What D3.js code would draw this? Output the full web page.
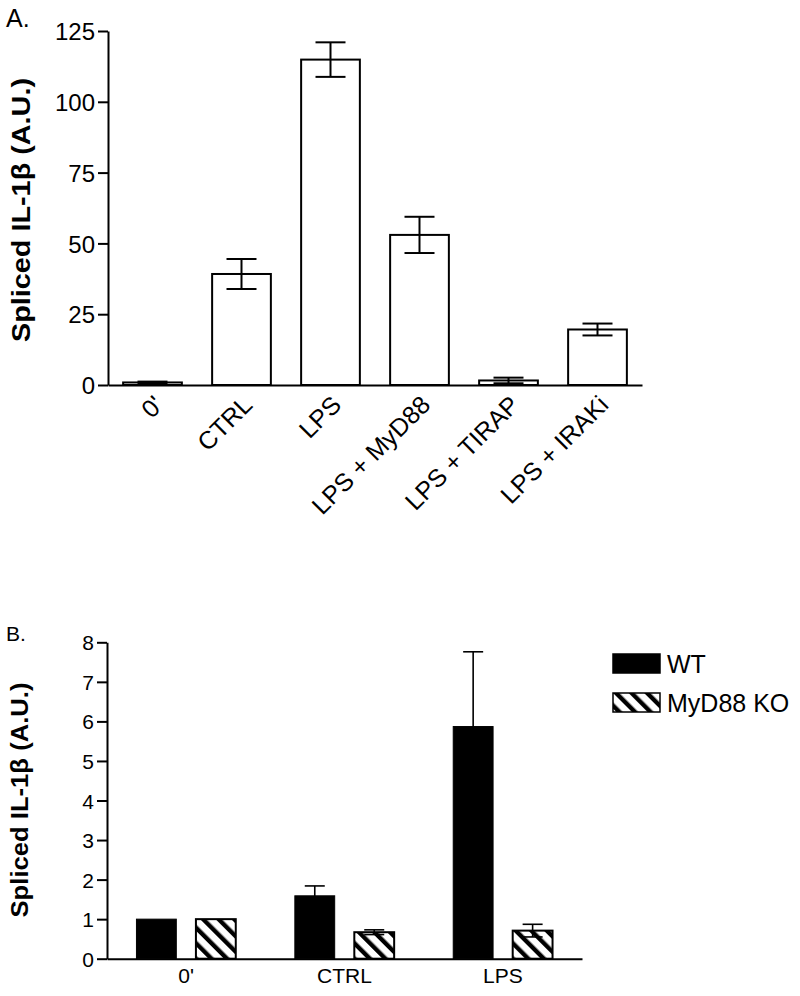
<!DOCTYPE html>
<html>
<head>
<meta charset="utf-8">
<script src="https://cdn.jsdelivr.net/npm/d3@7"></script>
<style>
  body { margin: 0; background: #fff; }
  svg { display: block; font-family: "Liberation Sans", Arial, sans-serif; }
</style>
</head>
<body>
<svg id="chart" width="800" height="996"></svg>
<script>
// Panel A data
var catsA = ["0'", "CTRL", "LPS", "LPS + MyD88", "LPS + TIRAP", "LPS + IRAKi"];
var meanA = [0.9, 39.2, 114.9, 53.0, 1.6, 19.6];
var errA = [0.3, 5.3, 6.1, 6.4, 1.0, 2.1];
var ticksA = [0, 25, 50, 75, 100, 125];

// Panel B data
var catsB = ["0'", "CTRL", "LPS"];
var seriesB = ["WT", "MyD88 KO"];
var wtB = [1.0, 1.59, 5.87];
var wtErrB = [0, 0.25, 1.89];
var koB = [1.0, 0.67, 0.71];
var koErrB = [0, 0.06, 0.16];
var ticksB = [0, 1, 2, 3, 4, 5, 6, 7, 8];

var svg = d3.select("#chart");

// Patrón rayado
svg.append("defs").append("pattern")
  .attr("id", "hatch")
  .attr("patternUnits", "userSpaceOnUse")
  .attr("width", 11)
  .attr("height", 11)
  .attr("patternTransform", "rotate(-45)")
  .call(function (p) {
    p.append("rect").attr("width", 11).attr("height", 11).attr("fill", "#fff");
    p.append("rect").attr("x", 0).attr("width", 4.4).attr("height", 11).attr("fill", "#000");
  });

// ---------------- Panel A ----------------
var xA = d3.scaleBand().domain(catsA).range([108, 642]).paddingInner(0.34).paddingOuter(0.17);
var yA = d3.scaleLinear().domain([0, 125]).range([385, 31]);

var gA = svg.append("g");

gA.append("text").attr("x", 6).attr("y", 27).style("font-size", "25px").text("A.");

// Barras
gA.selectAll(".barA")
  .data(catsA)
  .enter()
  .append("rect")
  .attr("class", "barA")
  .attr("x", function (d) { return xA(d); })
  .attr("y", function (d, i) { return yA(meanA[i]); })
  .attr("width", xA.bandwidth())
  .attr("height", function (d, i) { return yA(0) - yA(meanA[i]); })
  .attr("fill", "#fff")
  .attr("stroke", "#000")
  .attr("stroke-width", 2);

// Barras de error
var errG = gA.selectAll(".errA").data(catsA).enter().append("g").attr("class", "errA")
  .attr("stroke", "#000").attr("stroke-width", 2);
errG.append("line")
  .attr("x1", function (d) { return xA(d) + xA.bandwidth() / 2; })
  .attr("x2", function (d) { return xA(d) + xA.bandwidth() / 2; })
  .attr("y1", function (d, i) { return yA(meanA[i] + errA[i]); })
  .attr("y2", function (d, i) { return yA(meanA[i] - errA[i]); });
[1, -1].forEach(function (s) {
  errG.append("line")
    .attr("x1", function (d) { return xA(d) + xA.bandwidth() / 2 - 15; })
    .attr("x2", function (d) { return xA(d) + xA.bandwidth() / 2 + 15; })
    .attr("y1", function (d, i) { return yA(meanA[i] + s * errA[i]); })
    .attr("y2", function (d, i) { return yA(meanA[i] + s * errA[i]); });
});

// Ejes
var yAxisA = gA.append("g").attr("transform", "translate(108,0)")
  .call(d3.axisLeft(yA).tickValues(ticksA).tickSize(10).tickSizeOuter(0).tickPadding(3));
var xAxisA = gA.append("g").attr("transform", "translate(0,385)")
  .call(d3.axisBottom(xA).tickSize(0).tickSizeOuter(0).tickFormat(""));
[yAxisA, xAxisA].forEach(function (ax) {
  ax.select(".domain").attr("stroke-width", 2);
  ax.selectAll(".tick line").attr("stroke-width", 2);
});
yAxisA.selectAll("text").style("font-size", "24px").attr("fill", "#000").attr("dy", "0.36em");

// Etiquetas X rotadas
gA.selectAll(".xlabA")
  .data(catsA)
  .enter()
  .append("text")
  .attr("class", "xlabA")
  .attr("transform", function (d) {
    return "translate(" + (xA(d) + xA.bandwidth() / 2) + ",394) rotate(-45)";
  })
  .attr("text-anchor", "end")
  .attr("dy", "0.7em")
  .style("font-size", "25px")
  .text(function (d) { return d; });

gA.append("text")
  .attr("transform", "translate(30,210) rotate(-90)")
  .attr("text-anchor", "middle")
  .attr("textLength", 264)
  .attr("lengthAdjust", "spacingAndGlyphs")
  .style("font-size", "26px")
  .style("font-weight", "bold")
  .text("Spliced IL-1β (A.U.)");

// ---------------- Panel B ----------------
var xB = d3.scaleBand().domain(catsB).range([107, 582]).paddingInner(0.373).paddingOuter(0.186);
var xSub = d3.scaleBand().domain(seriesB).range([0, xB.bandwidth()]).paddingInner(0.33);
var yB = d3.scaleLinear().domain([0, 8]).range([958.7, 642.3]);

var gB = svg.append("g");
gB.append("text").attr("x", 6).attr("y", 641).style("font-size", "21px").text("B.");

var groups = gB.selectAll(".grpB")
  .data(catsB)
  .enter()
  .append("g")
  .attr("class", "grpB")
  .attr("transform", function (d) { return "translate(" + xB(d) + ",0)"; });

var seriesVals = { "WT": [wtB, wtErrB], "MyD88 KO": [koB, koErrB] };

seriesB.forEach(function (s) {
  var vals = seriesVals[s][0], errs = seriesVals[s][1];
  var isWT = s === "WT";
  groups.append("rect")
    .attr("x", xSub(s))
    .attr("y", function (d, i) { return yB(vals[i]); })
    .attr("width", xSub.bandwidth())
    .attr("height", function (d, i) { return yB(0) - yB(vals[i]); })
    .attr("fill", isWT ? "#000" : "url(#hatch)")
    .attr("stroke", "#000")
    .attr("stroke-width", isWT ? 1 : 2);

  var cx = xSub(s) + xSub.bandwidth() / 2;
  var eb = groups.filter(function (d, i) { return errs[i] > 0; })
    .append("g").attr("stroke", "#000").attr("stroke-width", 1.6);
  eb.append("line")
    .attr("x1", cx).attr("x2", cx)
    .attr("y1", function (d) { var i = catsB.indexOf(d); return yB(vals[i] + errs[i]); })
    .attr("y2", function (d) { var i = catsB.indexOf(d); return yB(vals[i] - errs[i]); });
  [1, -1].forEach(function (sg) {
    eb.append("line")
      .attr("x1", cx - 10).attr("x2", cx + 10)
      .attr("y1", function (d) { var i = catsB.indexOf(d); return yB(vals[i] + sg * errs[i]); })
      .attr("y2", function (d) { var i = catsB.indexOf(d); return yB(vals[i] + sg * errs[i]); });
  });
});

var yAxisB = gB.append("g").attr("transform", "translate(107,0)")
  .call(d3.axisLeft(yB).tickValues(ticksB).tickSize(10).tickSizeOuter(0).tickPadding(3));
var xAxisB = gB.append("g").attr("transform", "translate(0,958.7)")
  .call(d3.axisBottom(xB).tickSize(0).tickSizeOuter(0).tickPadding(9));
[yAxisB, xAxisB].forEach(function (ax) {
  ax.select(".domain").attr("stroke-width", 2);
  ax.selectAll(".tick line").attr("stroke-width", 2);
  ax.selectAll("text").style("font-size", "21px").attr("fill", "#000");
});
yAxisB.selectAll("text").attr("dy", "0.36em");

gB.append("text")
  .attr("transform", "translate(28,800) rotate(-90)")
  .attr("text-anchor", "middle")
  .attr("textLength", 235)
  .attr("lengthAdjust", "spacingAndGlyphs")
  .style("font-size", "23px")
  .style("font-weight", "bold")
  .text("Spliced IL-1β (A.U.)");

// Leyenda
var leg = gB.selectAll(".leg")
  .data(seriesB)
  .enter()
  .append("g")
  .attr("class", "leg")
  .attr("transform", function (d, i) { return "translate(613," + (654 + i * 39) + ")"; });
leg.append("rect")
  .attr("width", 47).attr("height", 19)
  .attr("fill", function (d) { return d === "WT" ? "#000" : "url(#hatch)"; })
  .attr("stroke", "#000").attr("stroke-width", 1.5);
leg.append("text")
  .attr("x", 54).attr("y", 19)
  .style("font-size", "25px")
  .text(function (d) { return d; });
</script>
</body>
</html>
